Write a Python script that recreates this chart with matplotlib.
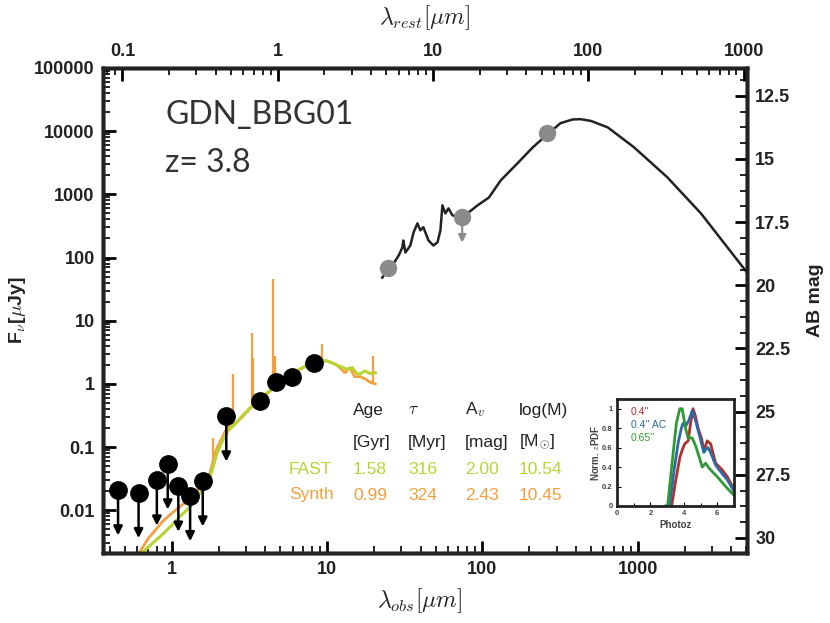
import numpy as np
import matplotlib
matplotlib.use("Agg")
import matplotlib.pyplot as plt
from matplotlib.ticker import FixedLocator, NullFormatter, AutoMinorLocator, LogLocator

plt.rcParams["mathtext.fontset"] = "cm"
plt.rcParams["font.family"] = ["Liberation Sans", "DejaVu Sans"]

# ---------------- data ----------------
z_phot = 3.8

# photometry: detections and upper limits [um, uJy]
det_wave = [3.7, 4.7, 5.9, 8.2]
det_flux = [0.54, 1.07, 1.3, 2.1]
ul_wave = [0.45, 0.61, 0.80, 0.94, 1.10, 1.31, 1.58, 2.24]
ul_flux = [0.021, 0.019, 0.030, 0.054, 0.024, 0.017, 0.029, 0.31]

# far-IR photometry (grey)
fir_wave = [24.8, 74.0, 259.0]
fir_flux = [69.0, 430.0, 9300.0]
fir_is_ul = [False, True, False]

# FAST best-fit template
fast_wave = [0.60, 0.75, 0.875, 1.0, 1.13, 1.3, 1.45, 1.6, 1.75, 1.85, 1.95, 2.1, 2.3, 2.5,
             2.8, 3.2, 3.7, 4.1, 4.7, 5.2, 6.0, 6.7, 7.5, 8.5, 9.0, 10.0, 11.0, 12.0,
             13.4, 14.5, 15.5, 16.3, 17.5, 19.0, 20.4]
fast_flux = [0.0018, 0.003, 0.0042, 0.0058, 0.008, 0.011, 0.016, 0.022, 0.033, 0.05, 0.08,
             0.12, 0.18, 0.22, 0.30, 0.42, 0.57, 0.72, 0.95, 1.2, 1.5, 1.73, 2.0, 2.2, 2.35,
             2.3, 2.1, 1.9, 1.7, 1.8, 1.45, 1.44, 1.6, 1.45, 1.5]

# Synth template (continuum + emission lines)
syn_wave = [0.60, 0.70, 0.875, 1.0, 1.13, 1.3, 1.45, 1.6, 1.76, 1.84, 1.95, 2.26, 2.5,
            2.8, 3.2, 3.7, 4.1, 4.7, 5.2, 6.0, 6.7, 7.5, 8.5, 9.0, 10.0, 11.5, 13.0,
            14.0, 15.0, 16.3, 17.5, 19.0, 20.4]
syn_flux = [0.0019, 0.0035, 0.0067, 0.009, 0.0115, 0.015, 0.020, 0.026, 0.039, 0.06, 0.096,
            0.20, 0.22, 0.29, 0.41, 0.56, 0.70, 0.93, 1.18, 1.48, 1.70, 1.98, 2.2, 2.3,
            2.3, 2.0, 1.5, 1.8, 1.3, 1.3, 1.2, 1.05, 1.0]
line_wave = [1.84, 2.47, 3.28, 3.35, 4.49, 4.60, 9.3, 19.8]
line_peak = [0.14, 1.44, 6.4, 2.6, 45.0, 2.8, 4.3, 2.8]

# IR template (black)
ir_wave = [22.6, 25, 27.5, 29, 30.5, 30.9, 31.9, 34.3, 36, 38.1, 39.8, 41.6, 44.9, 48.3,
           51.3, 53.6, 55.2, 57.7, 60.4, 64, 70, 80, 93, 110, 131, 168, 210, 259, 318, 380,
           428, 500, 640, 942, 1550, 2550, 5050]
ir_flux = [48, 66, 89, 110, 145, 186, 120, 155, 250, 347, 269, 302, 186, 155, 174, 269, 670,
           500, 600, 466, 440, 500, 670, 890, 1660, 3100, 5500, 8700, 13400, 15300, 15500,
           14500, 11500, 5600, 1860, 500, 58]

# fit table
tab_cols = ["Age", r"$\tau$", r"A$_{v}$", "log(M)"]
tab_units = ["[Gyr]", "[Myr]", "[mag]", r"[M$_{\odot}$]"]
fast_vals = ["1.58", "316", "2.00", "10.54"]
synth_vals = ["0.99", "324", "2.43", "10.45"]

# photo-z PDFs
pz_red_z = [3.0, 3.27, 3.5, 3.76, 3.95, 4.06, 4.26, 4.4, 4.55, 4.7, 4.85, 5.05, 5.2, 5.3,
            5.4, 5.6, 5.9, 6.3, 6.6, 7.0]
pz_red_p = [0, 0, 0.25, 0.5, 0.6, 0.64, 0.67, 0.85, 1.0, 0.92, 0.8, 0.70, 0.57, 0.62, 0.67,
            0.64, 0.44, 0.37, 0.30, 0.17]
pz_blue_z = [3.0, 3.15, 3.4, 3.66, 3.85, 3.95, 4.1, 4.3, 4.5, 4.7, 5.0, 5.2, 5.3, 5.45, 5.6,
             5.9, 6.3, 6.6, 7.0]
pz_blue_p = [0, 0, 0.35, 0.65, 0.8, 0.85, 0.82, 0.88, 0.98, 0.88, 0.68, 0.55, 0.58, 0.6,
             0.55, 0.42, 0.33, 0.27, 0.15]
pz_green_z = [2.9, 3.03, 3.3, 3.55, 3.76, 3.9, 4.0, 4.1, 4.25, 4.5, 4.7, 4.85, 5.1, 5.3, 5.5,
              6.0, 6.5, 7.0]
pz_green_p = [0, 0, 0.45, 0.85, 1.0, 1.0, 0.9, 0.8, 0.7, 0.70, 0.62, 0.54, 0.40, 0.44, 0.39,
              0.30, 0.20, 0.11]

# ---------------- styles ----------------
c_fast = "#b8d433"
c_syn = "#f5a040"
c_grey = "#8a8a8a"
c_txt = "#333333"
ul_len = 0.19
ul_len_fir = 0.4

W, H = 830, 623
fig = plt.figure(figsize=(W / 100, H / 100), dpi=100)
ax = fig.add_axes([103 / W, 1 - 553 / H, (747 - 103) / W, (553 - 68) / H])

ax.set_xscale("log")
ax.set_yscale("log")
xlim = (0.36, 5050)
ylim = (0.0021, 1e5)
ax.set_xlim(*xlim)
ax.set_ylim(*ylim)

# templates
ax.plot(syn_wave, syn_flux, color=c_syn, lw=2, zorder=2)
base = 10 ** np.interp(np.log10(line_wave), np.log10(syn_wave), np.log10(syn_flux))
ax.vlines(line_wave, base, line_peak, color=c_syn, lw=1.6, zorder=2)
ax.plot(fast_wave, fast_flux, color=c_fast, lw=2.2, zorder=3)
ax.plot(ir_wave, ir_flux, color="#222222", lw=1.8, zorder=3)

# photometry
for x, y in zip(ul_wave, ul_flux):
    ax.annotate("", xy=(x, y * ul_len), xytext=(x, y),
                arrowprops=dict(arrowstyle="-|>", color="k", lw=1.8,
                                mutation_scale=13, shrinkA=0, shrinkB=0), zorder=4)
ax.plot(ul_wave, ul_flux, "o", color="k", ms=12.5, zorder=5)
ax.plot(det_wave, det_flux, "o", color="k", ms=12.5, zorder=5)

for x, y, ul in zip(fir_wave, fir_flux, fir_is_ul):
    if ul:
        ax.annotate("", xy=(x, y * ul_len_fir), xytext=(x, y),
                    arrowprops=dict(arrowstyle="-|>", color=c_grey, lw=1.6,
                                    mutation_scale=11, shrinkA=0, shrinkB=0), zorder=4)
ax.plot(fir_wave, fir_flux, "o", color=c_grey, ms=11.5, zorder=5)

# axes styling
for s in ax.spines.values():
    s.set_linewidth(2.5)
    s.set_color("#222222")
tick_font = dict(fontsize=13, fontweight="bold", color="#222222")

yt = [0.01, 0.1, 1, 10, 100, 1000, 10000, 100000]
ax.yaxis.set_major_locator(FixedLocator(yt))
ax.set_yticklabels(["0.01", "0.1", "1", "10", "100", "1000", "10000", "100000"], **tick_font)
ax.yaxis.set_minor_locator(LogLocator(base=10, subs=np.arange(2, 10), numticks=20))
ax.yaxis.set_minor_formatter(NullFormatter())
xt = [1, 10, 100, 1000]
ax.xaxis.set_major_locator(FixedLocator(xt))
ax.set_xticklabels(["1", "10", "100", "1000"], **tick_font)
ax.xaxis.set_minor_locator(LogLocator(base=10, subs=np.arange(2, 10), numticks=20))
ax.xaxis.set_minor_formatter(NullFormatter())
ax.tick_params(which="major", direction="in", length=9, width=2, pad=6)
ax.tick_params(which="minor", direction="in", length=5, width=1.2)
ax.tick_params(which="both", top=False, right=False)

# top axis: rest-frame wavelength
axt = ax.twiny()
axt.set_xscale("log")
axt.set_xlim(xlim[0] / (1 + z_phot), xlim[1] / (1 + z_phot))
axt.xaxis.set_major_locator(FixedLocator([0.1, 1, 10, 100, 1000]))
axt.set_xticklabels(["0.1", "1", "10", "100", "1000"], **tick_font)
axt.xaxis.set_minor_locator(LogLocator(base=10, subs=np.arange(2, 10), numticks=20))
axt.xaxis.set_minor_formatter(NullFormatter())
axt.tick_params(which="major", direction="in", length=9, width=2, pad=6)
axt.tick_params(which="minor", direction="in", length=5, width=1.2)

# right axis: AB magnitude
axr = ax.twinx()
axr.set_ylim(23.9 - 2.5 * np.log10(ylim[0]), 23.9 - 2.5 * np.log10(ylim[1]))
axr.set_yticks([12.5, 15, 17.5, 20, 22.5, 25, 27.5, 30])
axr.set_yticklabels(["12.5", "15", "17.5", "20", "22.5", "25", "27.5", "30"], **tick_font)
axr.yaxis.set_minor_locator(AutoMinorLocator(4))
axr.tick_params(which="major", direction="in", length=9, width=2, pad=6)
axr.tick_params(which="minor", direction="in", length=5, width=1.2)
for a in (axt, axr):
    for s in a.spines.values():
        s.set_linewidth(2.5)
        s.set_color("#222222")

# labels
fig.text(420 / W, 1 - 601 / H, r"$\lambda_{obs}[\mu m]$", fontsize=17, ha="center", va="center",
         color="#222222")
fig.text(425 / W, 1 - 18 / H, r"$\lambda_{rest}[\mu m]$", fontsize=17, ha="center", va="center",
         color="#222222")
fig.text(18 / W, 1 - 310 / H, r"F$_{\nu}$[$\mu$Jy]", fontsize=14, fontweight="bold",
         rotation=90, ha="center", va="center", color="#222222")
fig.text(815 / W, 1 - 300 / H, "AB mag", fontsize=14, fontweight="bold",
         rotation=90, ha="center", va="center", color="#222222")

fig.text(165 / W, 1 - 124 / H, "GDN_BBG01", fontsize=23, color=c_txt, va="baseline",
         family=["Lato", "DejaVu Sans"])
fig.text(165 / W, 1 - 172 / H, "z= 3.8", fontsize=23, color=c_txt, va="baseline",
         family=["Lato", "DejaVu Sans"])

# fit table
col_x = [353, 408, 465, 519]
for cx, h, u, fv, sv in zip(col_x, tab_cols, tab_units, fast_vals, synth_vals):
    fig.text(cx / W, 1 - 410 / H, h, fontsize=12.5, color="#222222", va="center")
    fig.text(cx / W, 1 - 442 / H, u, fontsize=12.5, color="#222222", va="center")
    fig.text(cx / W, 1 - 469 / H, fv, fontsize=12.5, color=c_fast, va="center")
    fig.text(cx / W, 1 - 495 / H, sv, fontsize=12.5, color=c_syn, va="center")
fig.text(289 / W, 1 - 469 / H, "FAST", fontsize=12.5, color=c_fast, va="center")
fig.text(289 / W, 1 - 495 / H, "Synth", fontsize=12.5, color=c_syn, va="center")

# inset: photo-z PDFs
axi = fig.add_axes([617 / W, 1 - 506 / H, (734 - 617) / W, (506 - 399) / H])
axi.plot(pz_red_z, pz_red_p, color="#b2302a", lw=2)
axi.plot(pz_blue_z, pz_blue_p, color="#2e6aa3", lw=2)
axi.plot(pz_green_z, pz_green_p, color="#2f9a35", lw=2)
axi.set_xlim(0, 7)
axi.set_ylim(0, 1.1)
axi.set_xticks([0, 2, 4, 6])
axi.set_yticks([0, 0.2, 0.4, 0.6, 0.8, 1])
axi.set_yticklabels(["0", "0.2", "0.4", "0.6", "0.8", "1"])
axi.xaxis.set_minor_locator(AutoMinorLocator(2))
axi.tick_params(which="both", direction="in", labelsize=5.5, length=3, width=0.8, pad=3,
                labelcolor="#444444")
axi.tick_params(which="minor", length=2)
for lab in axi.get_xticklabels() + axi.get_yticklabels():
    lab.set_fontweight("bold")
for s in axi.spines.values():
    s.set_linewidth(2)
    s.set_color("#222222")
axi.set_xlabel("Photoz", fontsize=7, fontweight="bold", color="#444444", labelpad=2)
axi.set_ylabel(r"Norm. $z$PDF", fontsize=7, fontweight="bold", color="#444444", labelpad=1)
axi.text(0.12, 0.88, "0.4''", transform=axi.transAxes, color="#b2302a", fontsize=7.5, va="center")
axi.text(0.12, 0.76, "0.4'' AC", transform=axi.transAxes, color="#2e6aa3", fontsize=7.5, va="center")
axi.text(0.12, 0.64, "0.65''", transform=axi.transAxes, color="#2f9a35", fontsize=7.5, va="center")

fig.savefig("out.png", dpi=100)
